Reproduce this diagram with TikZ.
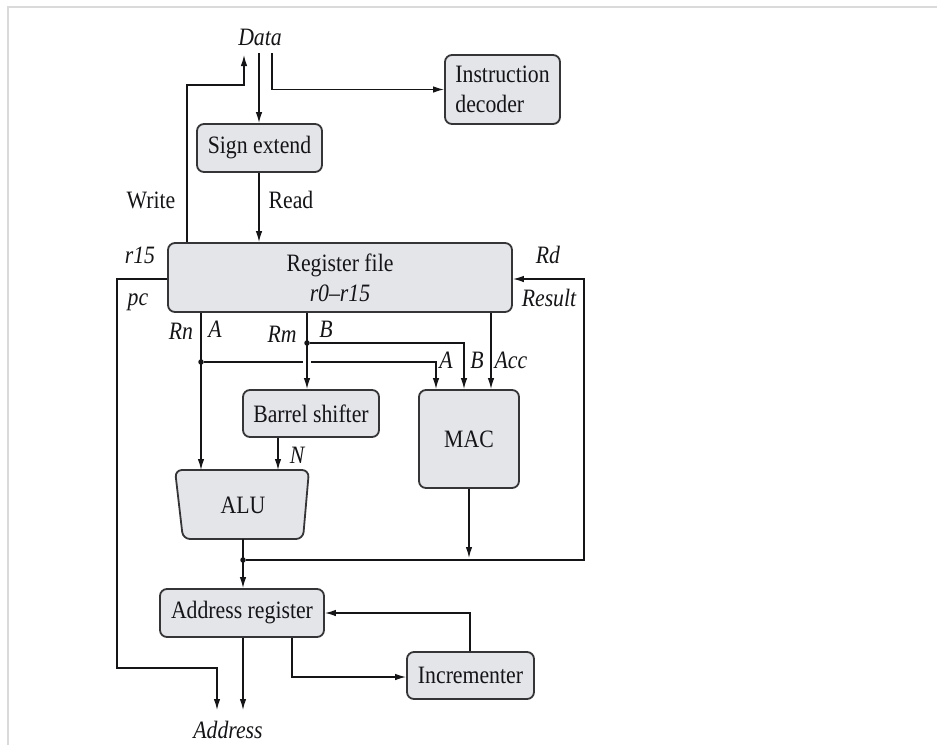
\documentclass[tikz,border=0pt]{standalone}
\usepackage{fontspec}
\setmainfont{Liberation Serif}[FakeStretch=0.87]
\usetikzlibrary{arrows.meta}
\definecolor{boxfill}{HTML}{E4E5E9}
\definecolor{boxline}{HTML}{353537}
\definecolor{ink}{HTML}{151518}
\definecolor{frame}{HTML}{DADADA}
\begin{document}
\begin{tikzpicture}[x=1pt,y=-1pt,
  font=\fontsize{25}{27}\selectfont,
  unit/.style={draw=boxline, fill=boxfill, rounded corners=7pt, line width=1.8pt,
               inner sep=0pt, text=ink},
  wire/.style={draw=ink, line width=1.3pt},
  arr/.style={wire, -{Latex[length=11pt,width=6.5pt]}},
  lbl/.style={inner sep=0pt, text=ink},
  ilbl/.style={lbl, font=\fontsize{25}{27}\selectfont\itshape},
  junction/.style={circle, fill=ink, inner sep=0pt, minimum size=5.5pt}
]
\useasboundingbox (0,0) rectangle (937,745);
\draw[frame, line width=1.2pt] (8,745) -- (8,7) -- (937,7);

% functional units
\node[unit, minimum width=115pt, minimum height=69pt, align=left] (dec) at (502.5,89.5)
  {Instruction\\[3pt]decoder};
\node[unit, minimum width=125pt, minimum height=48pt] (sign) at (259.5,148) {Sign extend};
\node[unit, minimum width=344pt, minimum height=69pt, align=center] (reg) at (340,277.5)
  {Register file\\[3pt]\textit{r0--r15}};
\node[unit, minimum width=136pt, minimum height=47pt] (bs) at (311,413.5) {Barrel shifter};
\node[unit, minimum width=100pt, minimum height=98pt] (mac) at (469,439) {MAC};
\draw[draw=boxline, fill=boxfill, rounded corners=7pt, line width=1.8pt]
  (175,470) -- (309,470) -- (303,539) -- (183,539) -- cycle;
\node[lbl] (alu) at (243,505) {ALU};
\node[unit, minimum width=164pt, minimum height=48pt] (ar) at (242,613) {Address register};
\node[unit, minimum width=127pt, minimum height=47pt] (inc) at (470.5,675.5) {Incrementer};

% port and bus labels
\node[ilbl] (data) at (260,37) {Data};
\node[lbl] (write) at (151,200) {Write};
\node[lbl] (read) at (291,200) {Read};
\node[ilbl] (r15) at (140,255) {r15};
\node[ilbl] (pc) at (138,302) {pc};
\node[ilbl] (rd) at (548,255) {Rd};
\node[ilbl] (result) at (549,298) {Result};
\node[ilbl] (rn) at (181,331) {Rn};
\node[ilbl] (la) at (215,329) {A};
\node[ilbl] (rm) at (282,334) {Rm};
\node[ilbl] (lb) at (326,329) {B};
\node[ilbl] (ma) at (446,360) {A};
\node[ilbl] (mb) at (477,360) {B};
\node[ilbl] (macc) at (511,360) {Acc};
\node[ilbl] (n) at (297,455) {N};
\node[ilbl] (addr) at (228,730) {Address};

% junction points
\node[junction] (ja) at (201,362) {};
\node[junction] (jb) at (307,343) {};
\node[junction] (jr) at (243,560) {};

% data bus
\draw[arr] (reg.north -| 187,0) -- (187,85) -- (244,85) -- (244,55);
\draw[arr] (259,53) -- (sign.north -| 259,0);
\draw[arr] (272,53) |- (dec.west);
\draw[arr] (sign.south -| 259,0) -- (reg.north -| 259,0);

% register file outputs
\draw[arr] (reg.south -| ja) -- (201,470);
\draw[wire] (ja) -- (303,362);
\draw[arr] (311,362) -- (436,362) -- (mac.north -| 436,0);
\draw[arr] (reg.south -| jb) -- (bs.north -| jb);
\draw[arr] (jb) -- (464,343) -- (mac.north -| 464,0);
\draw[arr] (reg.south -| 491,0) -- (mac.north -| 491,0);
\draw[arr] (bs.south -| 278,0) -- (278,470);

% results back to the register file
\draw[arr] (mac.south) -- (469,558);
\draw[arr] (jr) -- (584,560) -- (584,279) -- (reg.east |- 0,279);
\draw[arr] (243,539) -- (ar.north -| jr);

% program counter and address path
\draw[arr] (reg.west |- 0,279) -- (117,279) -- (117,668) -- (217,668) -- (217,710);
\draw[arr] (ar.south -| 243,0) -- (243,710);
\draw[arr] (ar.south -| 292,0) |- (inc.west |- 0,677);
\draw[arr] (inc.north -| 470,0) |- (ar.east);
\end{tikzpicture}
\end{document}
